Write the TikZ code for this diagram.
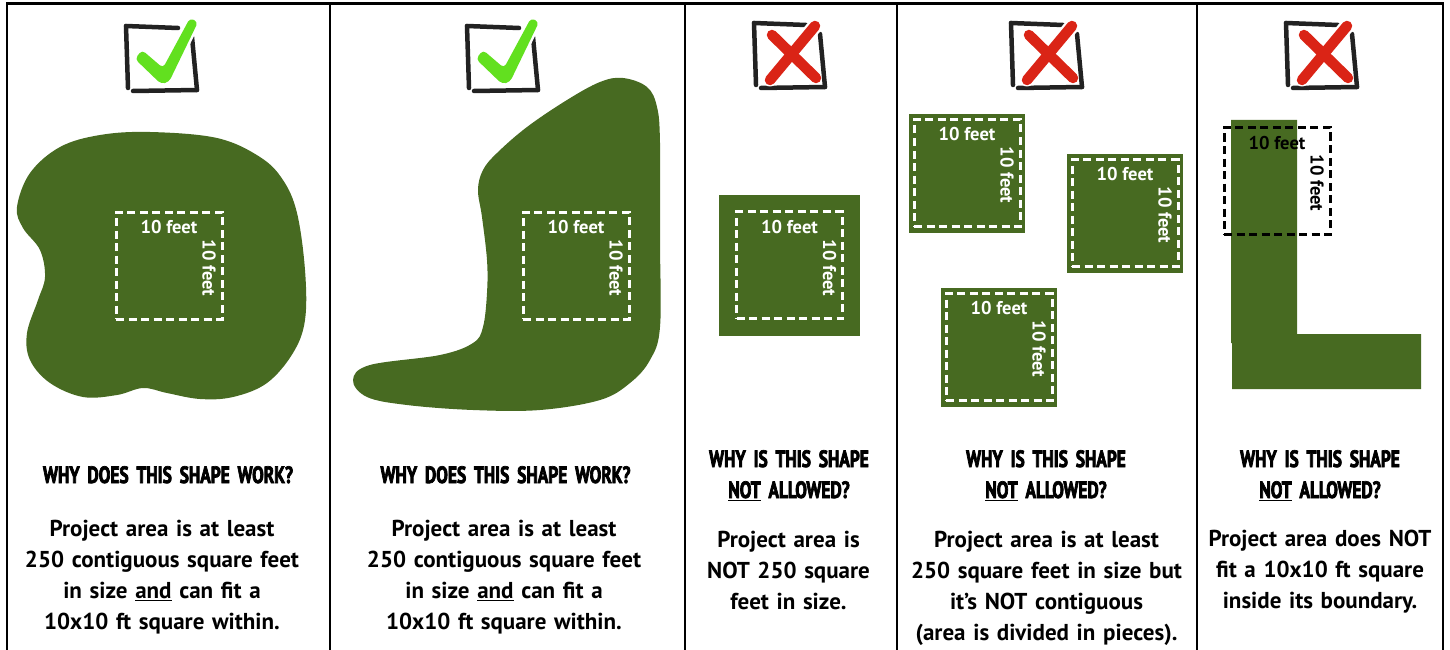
\documentclass[tikz,border=0pt]{standalone}
\usepackage{fontspec}
\setmainfont{PT Sans}
\newfontfamily\titlefont{PT Sans Bold}[FakeStretch=0.74, FakeBold=3]
\definecolor{grass}{HTML}{476A21}
\definecolor{okgreen}{HTML}{62E01F}
\definecolor{nored}{HTML}{DA2416}
\definecolor{inkframe}{HTML}{222222}
\tikzset{
  rule/.style={draw=black, line width=2.2pt},
  area/.style={fill=grass, draw=none},
  sq/.style={area, inner sep=0pt, minimum width=116pt, minimum height=119pt},
  tenbox/.style={draw=white, line width=3pt, dash pattern=on 8pt off 4.5pt, inner sep=0pt, minimum width=106pt, minimum height=107pt},
  tenboxk/.style={tenbox, draw=black},
  lbl/.style={text=white, font=\fontsize{18.5}{20}\selectfont\bfseries, inner sep=0pt},
  lblk/.style={lbl, text=black},
  ttl/.style={font=\titlefont\fontsize{23.5}{31}\selectfont, align=center, text width=340pt, anchor=base, inner sep=0pt},
  body/.style={font=\bfseries\fontsize{23}{31}\selectfont, align=center, text width=340pt, anchor=base, inner sep=0pt},
  brush/.style={draw=inkframe, line width=4.5pt, line cap=round},
  ckframe/.pic={
    \draw[brush] (0,0) -- (2,62);
    \draw[brush] (0,0) -- (52,2);
    \draw[brush] (66,11) -- (71,64);
    \draw[brush] (7,65) -- (71,64);
  },
  okmark/.pic={
    \pic {ckframe};
    \filldraw[white, line width=5pt, rounded corners=4pt] (9,33) -- (16,24) -- (37,42) -- (64,-8) -- (72,-4) -- (43,56) -- (35,58) -- cycle;
    \fill[okgreen, rounded corners=4pt] (9,33) -- (16,24) -- (37,42) -- (64,-8) -- (72,-4) -- (43,56) -- (35,58) -- cycle;
  },
  nomark/.pic={
    \pic {ckframe};
    \draw[white, line width=15pt, line cap=round] (61,3) -- (16,56);
    \draw[nored, line width=10.5pt, line cap=round] (18,12) -- (62,55);
    \draw[nored, line width=10.5pt, line cap=round] (61,3) -- (16,57);
  }
}
\begin{document}
\begin{tikzpicture}[x=1pt, y=-1pt]
\useasboundingbox (0,0) rectangle (1450,650);
% frame and dividers
\draw[rule] (7,650) -- (7,3.5) -- (1443,3.5) -- (1443,650);
\foreach \xx in {330,685,897,1197} \draw[rule] (\xx,3.5) -- (\xx,650);

% marks
\pic at (126,26) {okmark};
\pic at (467,26) {okmark};
\pic at (754,23) {nomark};
\pic at (1011,23) {nomark};
\pic at (1286,23) {nomark};

% panel 1 blob
\fill[grass] plot[smooth cycle, tension=0.6] coordinates {
 (17,207) (30,173) (60,147) (100,135) (150,132) (217,138) (260,157) (283,180)
 (297,213) (305,270) (305,320) (293,353) (267,383) (233,397) (200,399) (167,393)
 (143,388) (117,395) (83,397) (50,383) (30,360) (27,333) (38,300) (45,277) (40,250) (23,228)};
\node[tenbox] (b1) at (169,265.5) {};
\node[lbl] at (169,227) {10 feet};
\node[lbl, rotate=-90] at (209,268) {10 feet};

% panel 2 blob
\fill[grass] plot[smooth cycle, tension=0.6] coordinates {
 (600,82) (623,78) (647,87) (657,107) (660,143) (660,240) (660,327) (650,360) (630,383)
 (600,400) (540,410) (473,410) (407,405) (367,397) (353,380) (370,365) (440,355)
 (473,343) (483,327) (487,293) (487,260) (482,217) (478,190) (483,170) (497,153)
 (527,127) (567,100)};
\node[tenbox] (b2) at (576,265.5) {};
\node[lbl] at (576,227) {10 feet};
\node[lbl, rotate=-90] at (616,268) {10 feet};

% panel 3
\node[sq, minimum width=141pt, minimum height=141pt] (g3) at (789.5,265.5) {};
\node[tenbox] (b3) at (789.5,265) {};
\node[lbl] at (789.5,227) {10 feet};
\node[lbl, rotate=-90] at (829.5,268) {10 feet};

% panel 4
\node[sq] (g4a) at (967,173.5) {};
\node[tenbox] (b4a) at (967,173) {};
\node[lbl] at (967,134) {10 feet};
\node[lbl, rotate=-90] at (1007,175) {10 feet};

\node[sq] (g4b) at (1125,213.5) {};
\node[tenbox] (b4b) at (1125,213) {};
\node[lbl] at (1125,174) {10 feet};
\node[lbl, rotate=-90] at (1165,215) {10 feet};

\node[sq] (g4c) at (999,347.5) {};
\node[tenbox] (b4c) at (999,347) {};
\node[lbl] at (999,308) {10 feet};
\node[lbl, rotate=-90] at (1039,349) {10 feet};

% panel 5
\fill[grass] (1231,120) -- (1297,120) -- (1297,334) -- (1421,334) -- (1421,389) -- (1232,389) -- (1232,343) -- (1231,343) -- cycle;
\node[tenboxk] (b5) at (1277,181) {};
\node[lblk] at (1277,143) {10 feet};
\node[lblk, rotate=-90] at (1317,183) {10 feet};

% texts
\node[ttl] (t1) at (168,483) {WHY DOES THIS SHAPE WORK?};
\node[body] (d1) at (162,536) {Project area is at least\\250 contiguous square feet\\in size \underline{and} can fit a\\10x10 ft square within.};
\node[ttl] (t2) at (505.5,483) {WHY DOES THIS SHAPE WORK?};
\node[body] (d2) at (504,536) {Project area is at least\\250 contiguous square feet\\in size \underline{and} can fit a\\10x10 ft square within.};
\node[ttl] (t3) at (789,467) {WHY IS THIS SHAPE\\\underline{NOT} ALLOWED?};
\node[body] (d3) at (788.5,547) {Project area is\\NOT 250 square\\feet in size.};
\node[ttl] (t4) at (1046,467) {WHY IS THIS SHAPE\\\underline{NOT} ALLOWED?};
\node[body] (d4) at (1046.5,547) {Project area is at least\\250 square feet in size but\\it’s NOT contiguous\\(area is divided in pieces).};
\node[ttl] (t5) at (1320,467) {WHY IS THIS SHAPE\\\underline{NOT} ALLOWED?};
\node[body] (d5) at (1320,546) {Project area does NOT\\fit a 10x10 ft square\\inside its boundary.};
\end{tikzpicture}
\end{document}
